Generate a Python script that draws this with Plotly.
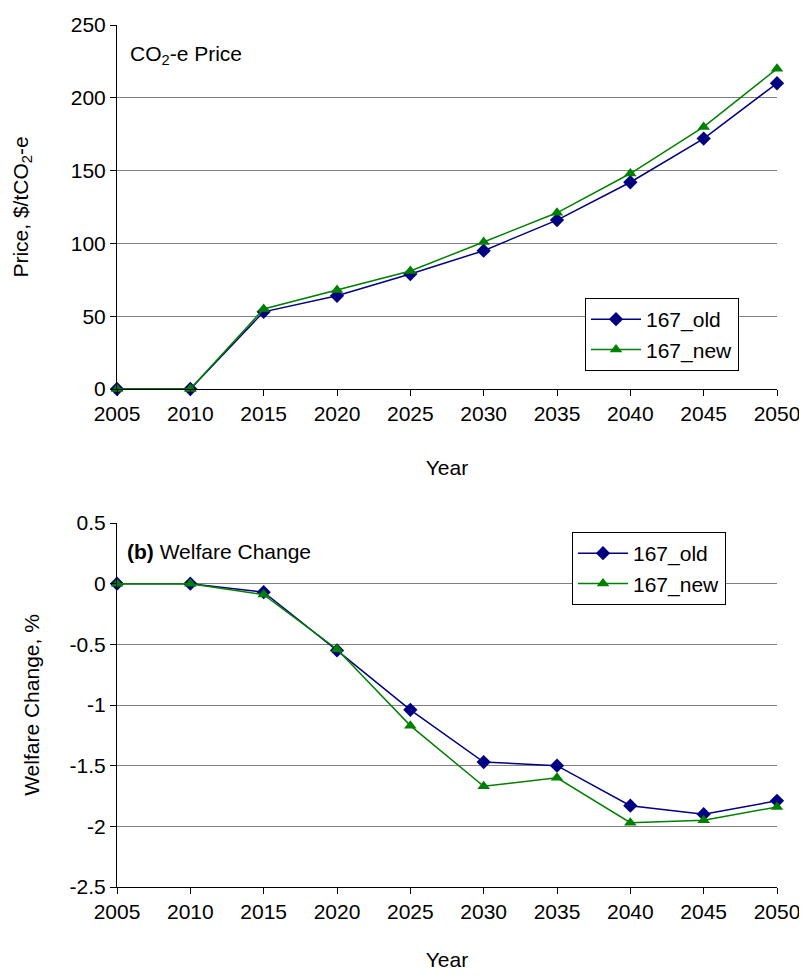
import plotly.graph_objects as go

years = [2005, 2010, 2015, 2020, 2025, 2030, 2035, 2040, 2045, 2050]
price_old = [0, 0, 53, 64, 79, 95, 116, 142, 172, 210]
price_new = [0, 0, 55, 68, 81, 101, 121, 148, 180, 220]
welfare_old = [0, 0, -0.07, -0.55, -1.04, -1.47, -1.50, -1.83, -1.90, -1.79]
welfare_new = [0, 0, -0.09, -0.54, -1.17, -1.67, -1.60, -1.97, -1.95, -1.84]

NAVY = "#000080"
GREEN = "#008000"
FONT = dict(family="Liberation Sans, Arial, sans-serif", size=21, color="black")

W, H, OFF = 799, 963, 8
def px(x): return (x - OFF) / W
def py(y): return 1 - (y - OFF) / H

fig = go.Figure()
def add(x, y, name, color, sym, xa, ya, leg):
    fig.add_trace(go.Scatter(x=x, y=y, name=name, mode="lines+markers",
        line=dict(color=color, width=1.5),
        marker=dict(symbol=sym, size=11, color=color),
        xaxis=xa, yaxis=ya, legend=leg, cliponaxis=False))

add(years, price_old, "167_old", NAVY, "diamond", "x", "y", "legend")
add(years, price_new, "167_new", GREEN, "triangle-up", "x", "y", "legend")
add(years, welfare_old, "167_old", NAVY, "diamond", "x2", "y2", "legend2")
add(years, welfare_new, "167_new", GREEN, "triangle-up", "x2", "y2", "legend2")

xd = [px(117), px(777)]
common_x = dict(range=[2005, 2050], tickvals=years, showgrid=False, showline=True,
                linecolor="black", ticks="outside", ticklen=6, tickcolor="black",
                tickfont=FONT, zeroline=False, automargin=False)
common_y = dict(showgrid=True, gridcolor="#808080", gridwidth=1, showline=True,
                linecolor="black", ticks="outside", ticklen=6, tickcolor="black",
                tickfont=FONT, zeroline=False, automargin=False)

fig.update_layout(
    width=W, height=H, margin=dict(l=0, r=0, t=0, b=0, autoexpand=False),
    plot_bgcolor="white", paper_bgcolor="white", font=FONT,
    xaxis=dict(domain=xd, anchor="y", title=dict(text="Year", font=FONT, standoff=36), **common_x),
    yaxis=dict(domain=[py(389), py(25)], anchor="x", range=[0, 250], dtick=50,
               title=dict(text="Price, $/tCO<sub>2</sub>-e", font=FONT, standoff=36), **common_y),
    xaxis2=dict(domain=xd, anchor="y2", title=dict(text="Year", font=FONT, standoff=36), **common_x),
    yaxis2=dict(domain=[py(887), py(523)], anchor="x2", range=[-2.5, 0.5],
                tickvals=[0.5, 0, -0.5, -1, -1.5, -2, -2.5],
                ticktext=["0.5", "0", "-0.5", "-1", "-1.5", "-2", "-2.5"],
                title=dict(text="Welfare Change, %", font=FONT, standoff=24), **common_y),
    legend=dict(x=px(585), y=py(298), xanchor="left", yanchor="top",
                bgcolor="white", bordercolor="black", borderwidth=1, font=FONT,
                tracegroupgap=4, itemwidth=50),
    legend2=dict(x=px(572), y=py(532), xanchor="left", yanchor="top",
                 bgcolor="white", bordercolor="black", borderwidth=1, font=FONT,
                 tracegroupgap=4, itemwidth=50),
    annotations=[
        dict(text="CO<sub>2</sub>-e Price", x=px(128), y=py(55), xref="paper", yref="paper",
             xanchor="left", yanchor="middle", showarrow=False, font=FONT),
        dict(text="<b>(b)</b> Welfare Change", x=px(125), y=py(551), xref="paper", yref="paper",
             xanchor="left", yanchor="middle", showarrow=False, font=FONT),
    ],
)
fig.write_html("out.html")
